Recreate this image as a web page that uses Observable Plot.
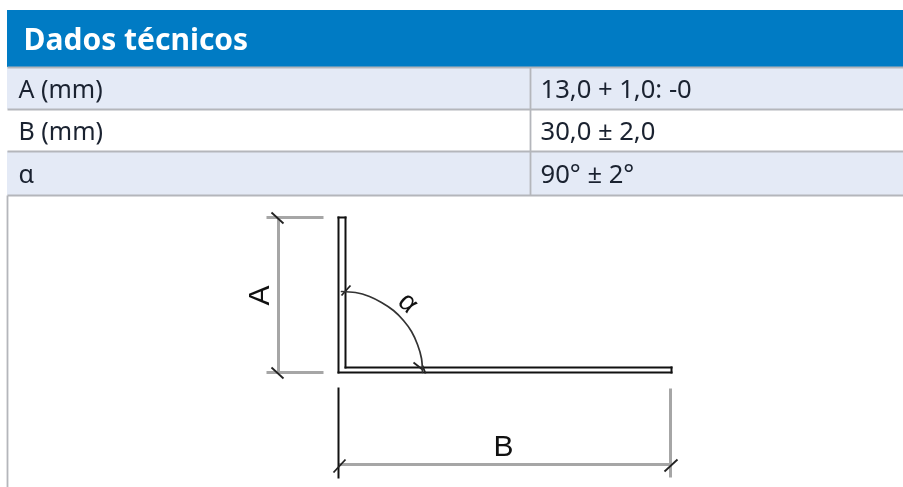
<!DOCTYPE html>
<html lang="pt">
<head>
<meta charset="utf-8">
<style>html,body{margin:0;padding:0;background:#fff}svg{display:block;filter:blur(0.4px)}</style>
<script src="https://cdn.jsdelivr.net/npm/d3@7"></script>
<script src="https://cdn.jsdelivr.net/npm/@observablehq/plot@0.6"></script>
</head>
<body>
<script>
const title = "Dados técnicos";
const parameters = ["A (mm)", "B (mm)", "α"];
const values = ["13,0 + 1,0: -0", "30,0 ± 2,0", "90° ± 2°"];
const rowTops = [67, 109, 151];
const rowBottoms = [109, 151, 195];
const rowFills = ["#e4eaf6", "#ffffff", "#e4eaf6"];

// Drawing segments as [x1, y1, x2, y2], in the picture's units
const grayLines = [
  [278, 217, 278, 372], [266, 217, 323, 217], [266, 372, 323, 372],
  [670, 388, 670, 477], [338, 464, 670, 464]
];
const blackLines = [
  [338, 217, 338, 372], [338, 372, 671, 372], [671, 372, 671, 367],
  [671, 367, 345, 367], [345, 367, 345, 217], [345, 217, 338, 217],
  [338, 388, 338, 477]
];
const ticks = [
  [271, 212, 283, 223], [271, 367, 283, 378],
  [333, 472, 345, 459], [664, 471, 677, 459],
  [350, 285, 341, 295], [413, 362, 422, 369], [422, 365, 425, 373]
];
const arcX = [341, 355, 369, 381, 393, 403, 411, 417, 421, 422];
const arcY = [291, 292, 296, 302, 310, 320, 331, 344, 358, 372];
const gridLines = [
  [7, 67, 903, 67], [7, 109, 903, 109], [7, 151, 903, 151], [7, 195, 903, 195],
  [530, 67, 530, 195], [7, 195, 7, 487]
];

const seg = (rows, stroke, strokeWidth, strokeLinecap = "butt") => Plot.link(rows, {
  x1: d => d[0], y1: d => d[1], x2: d => d[2], y2: d => d[3], stroke, strokeWidth, strokeLinecap
});
const font = "'Noto Sans', sans-serif";
const rowIdx = d3.range(parameters.length);

const plot = Plot.plot({
  width: 903, height: 487, margin: 0,
  style: {background: "#fff"},
  x: {type: "linear", domain: [0, 903], range: [0, 903], axis: null},
  y: {type: "linear", domain: [0, 487], range: [0, 487], axis: null},
  marks: [
    Plot.rect([title], {x1: 7, x2: 903, y1: 10, y2: 67, fill: "#007bc4"}),
    Plot.rect(rowIdx, {x1: 7, x2: 903, y1: i => rowTops[i], y2: i => rowBottoms[i], fill: i => rowFills[i]}),
    seg(gridLines, "#b4b6bb", 1.8),
    Plot.text([title], {x: 23, y: 40, text: d => d, fill: "#fff", fontFamily: font, fontWeight: 700, fontSize: 30, textAnchor: "start"}),
    Plot.text(rowIdx, {x: 18, y: i => (rowTops[i] + rowBottoms[i]) / 2 + 1, text: i => parameters[i], fill: "#1a2230", fontFamily: font, fontSize: 25, textAnchor: "start"}),
    Plot.text(rowIdx, {x: 540, y: i => (rowTops[i] + rowBottoms[i]) / 2 + 1, text: i => values[i], fill: "#1a2230", fontFamily: font, fontSize: 25.6, textAnchor: "start"}),
    seg(grayLines, "#a6a6a6", 3),
    seg(blackLines, "#111", 2, "square"),
    seg(ticks, "#222", 1.8),
    Plot.line(arcX.map((x, i) => [x, arcY[i]]), {x: d => d[0], y: d => d[1], stroke: "#333", strokeWidth: 1.7, curve: "natural"}),
    Plot.text(["A"], {x: 259, y: 295, text: d => d, rotate: -90, fill: "#111", fontFamily: "'Liberation Sans', sans-serif", fontSize: 30}),
    Plot.text(["B"], {x: 503, y: 446, text: d => d, fill: "#111", fontFamily: "'Liberation Sans', sans-serif", fontSize: 30}),
    Plot.text(["α"], {x: 408, y: 302, text: d => d, rotate: 45, fill: "#111", fontFamily: "'Liberation Sans', sans-serif", fontSize: 28})
  ]
});
document.body.append(plot);
</script>
</body>
</html>
